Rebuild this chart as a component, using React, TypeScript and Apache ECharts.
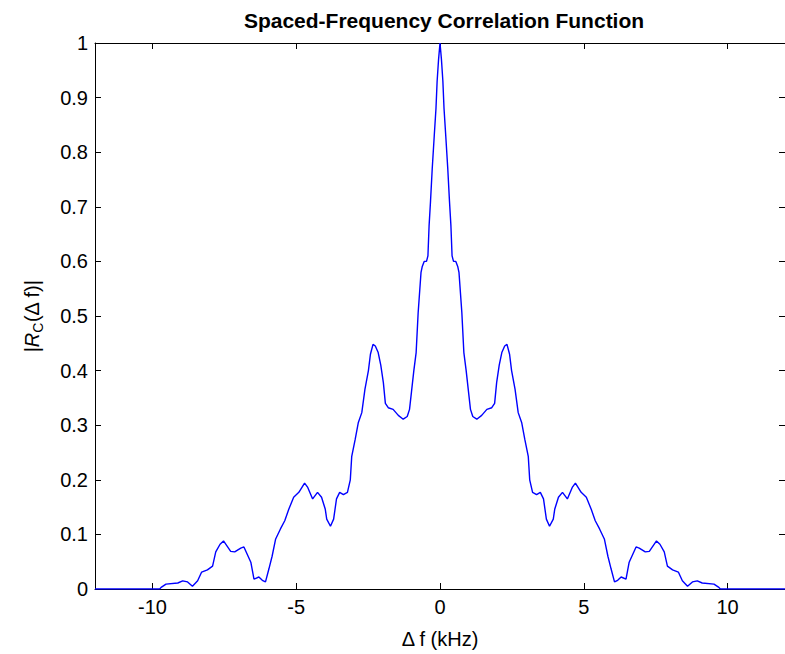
import React, { useEffect, useRef } from "react";
import * as echarts from "echarts";

const titleText = "Spaced-Frequency Correlation Function";
const xName = "Δ f (kHz)";
const xTicks = [-10, -5, 0, 5, 10];

// Frequency separation (kHz)
const freq = [
  -12, -9.75, -9.7, -9.53, -9.12, -8.95, -8.78, -8.61, -8.43, -8.29, -8.09, -7.91, -7.8, -7.65, -7.53,
  -7.28, -7.14, -6.93, -6.82, -6.58, -6.47, -6.3, -6.18, -6.07, -5.95, -5.84, -5.72, -5.55, -5.4,
  -5.26, -5.09, -4.91, -4.71, -4.6, -4.43, -4.26, -4.12, -3.99, -3.94, -3.81, -3.7, -3.6, -3.49,
  -3.36, -3.22, -3.12, -3.07, -2.95, -2.84, -2.72, -2.61, -2.49, -2.42, -2.33, -2.25, -2.15, -2.06,
  -1.97, -1.9, -1.8, -1.63, -1.45, -1.28, -1.14, -1.06, -0.99, -0.91, -0.83, -0.76, -0.66, -0.62,
  -0.55, -0.47, -0.42, -0.38, -0.33, -0.27, -0.2, -0.14, -0.1, -0.05,
  0,
  0.05, 0.1, 0.14, 0.2, 0.27, 0.33, 0.38, 0.42, 0.47, 0.55, 0.62, 0.66, 0.76, 0.83, 0.91, 0.99,
  1.06, 1.14, 1.28, 1.45, 1.63, 1.8, 1.9, 1.97, 2.06, 2.15, 2.25, 2.33, 2.42, 2.49, 2.61, 2.72,
  2.84, 2.95, 3.07, 3.12, 3.22, 3.36, 3.49, 3.6, 3.7, 3.81, 3.94, 3.99, 4.12, 4.26, 4.43, 4.6,
  4.71, 4.91, 5.09, 5.26, 5.4, 5.55, 5.72, 5.84, 5.95, 6.07, 6.18, 6.3, 6.47, 6.58, 6.82, 6.93,
  7.14, 7.28, 7.53, 7.65, 7.8, 7.91, 8.09, 8.29, 8.43, 8.61, 8.78, 8.95, 9.12, 9.53, 9.7, 9.75, 12,
];

// |Rc(Δf)|
const corr = [
  0, 0, 0.003, 0.009, 0.011, 0.015, 0.013, 0.005, 0.015, 0.031, 0.035, 0.042, 0.068, 0.082, 0.088,
  0.069, 0.068, 0.075, 0.077, 0.049, 0.018, 0.022, 0.016, 0.013, 0.037, 0.06, 0.091, 0.11, 0.125,
  0.146, 0.168, 0.177, 0.194, 0.186, 0.165, 0.177, 0.168, 0.146, 0.128, 0.115, 0.128, 0.165, 0.177,
  0.173, 0.177, 0.2, 0.243, 0.274, 0.305, 0.323, 0.366, 0.4, 0.43, 0.448, 0.445, 0.433, 0.41,
  0.378, 0.34, 0.332, 0.329, 0.318, 0.311, 0.316, 0.329, 0.362, 0.4, 0.433, 0.506, 0.58, 0.59,
  0.6, 0.6, 0.61, 0.665, 0.71, 0.77, 0.83, 0.88, 0.93, 0.97,
  1.0,
  0.97, 0.93, 0.88, 0.83, 0.77, 0.71, 0.665, 0.61, 0.6, 0.6, 0.59, 0.58, 0.506, 0.433, 0.4, 0.362,
  0.329, 0.316, 0.311, 0.318, 0.329, 0.332, 0.34, 0.378, 0.41, 0.433, 0.445, 0.448, 0.43, 0.4, 0.366, 0.323,
  0.305, 0.274, 0.243, 0.2, 0.177, 0.173, 0.177, 0.165, 0.128, 0.115, 0.128, 0.146, 0.168, 0.177, 0.165, 0.186,
  0.194, 0.177, 0.168, 0.146, 0.125, 0.11, 0.091, 0.06, 0.037, 0.013, 0.016, 0.022, 0.018, 0.049, 0.077, 0.075,
  0.068, 0.069, 0.088, 0.082, 0.068, 0.042, 0.035, 0.031, 0.015, 0.005, 0.013, 0.015, 0.011, 0.009, 0.003, 0, 0,
];

const FONT = "'Liberation Sans', Arial, sans-serif";

export default function App() {
  const ref = useRef<HTMLDivElement>(null);
  useEffect(() => {
    if (!ref.current) return;
    const chart = echarts.init(ref.current, undefined, { renderer: "svg" });
    const data = freq.map((f, i) => [f, corr[i]]);
    const axisLine = { show: true, onZero: false, lineStyle: { color: "#000", width: 1 } };
    const tick = { show: true, inside: true, length: 6, lineStyle: { color: "#000", width: 1 } };
    const label = { color: "#000", fontSize: 20, fontFamily: FONT };
    chart.setOption({
      animation: false,
      backgroundColor: "#fff",
      title: {
        text: titleText,
        left: 439,
        top: 5,
        textAlign: "center",
        textStyle: { fontFamily: FONT, fontSize: 21, fontWeight: "bold", color: "#000" },
      },
      grid: { left: 95, top: 43, width: 695, height: 547, containLabel: false },
      xAxis: [
        {
          type: "value",
          min: -12,
          max: 12,
          position: "bottom",
          axisLine,
          axisTick: { ...tick, customValues: xTicks },
          axisLabel: { ...label, margin: 8, customValues: xTicks },
          splitLine: { show: false },
          name: xName,
          nameLocation: "middle",
          nameGap: 40,
          nameTextStyle: { ...label },
        },
        {
          type: "value",
          min: -12,
          max: 12,
          position: "top",
          axisLine,
          axisTick: { ...tick, customValues: xTicks },
          axisLabel: { show: false },
          splitLine: { show: false },
        },
      ],
      yAxis: [
        {
          type: "value",
          min: 0,
          max: 1,
          interval: 0.1,
          position: "left",
          axisLine,
          axisTick: tick,
          axisLabel: { ...label, margin: 7 },
          splitLine: { show: false },
          name: "{m||}{r|R}{s|C}{m|(Δ f)|}",
          nameLocation: "middle",
          nameGap: 50,
          nameTextStyle: {
            rich: {
              m: { fontSize: 20, fontFamily: FONT, color: "#000", lineHeight: 26, verticalAlign: "middle" },
              r: { fontSize: 20, fontFamily: FONT, color: "#000", fontStyle: "italic", lineHeight: 26, verticalAlign: "middle" },
              s: { fontSize: 14, fontFamily: FONT, color: "#000", lineHeight: 14, verticalAlign: "bottom" },
            },
          },
        },
        {
          type: "value",
          min: 0,
          max: 1,
          interval: 0.1,
          position: "right",
          axisLine,
          axisTick: tick,
          axisLabel: { show: false },
          splitLine: { show: false },
        },
      ],
      series: [
        {
          type: "line",
          data,
          xAxisIndex: 0,
          yAxisIndex: 0,
          showSymbol: false,
          symbol: "none",
          lineStyle: { color: "#0000ff", width: 1.4 },
          itemStyle: { color: "#0000ff" },
        },
      ],
    });
    return () => chart.dispose();
  }, []);
  return (
    <div
      ref={ref}
      style={{ position: "absolute", left: 0, top: 0, width: 785, height: 654, background: "#fff" }}
    />
  );
}
